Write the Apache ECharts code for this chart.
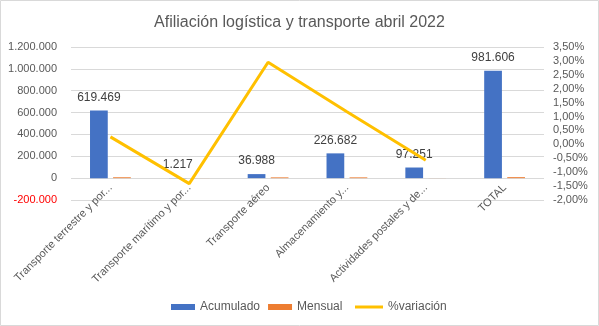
<!DOCTYPE html>
<html><head><meta charset="utf-8">
<script src="https://cdn.jsdelivr.net/npm/echarts@6/dist/echarts.min.js"></script>
<style>html,body{margin:0;padding:0;background:#fff}#c{width:599px;height:326px}</style>
</head><body><div id="c"></div>
<script>
const categories = ["Transporte terrestre y por...", "Transporte marítimo y por...", "Transporte aéreo", "Almacenamiento y...", "Actividades postales y de...", "TOTAL"];
const acumulado = [619469, 1217, 36988, 226682, 97251, 981606];
const mensual = [8000, 500, 7000, 7000, 500, 9000];
const variacion = [0.27, -1.41, 2.95, 1.17, -0.57, null];
const seriesNames = ["Acumulado", "Mensual", "%variación"];
const titleText = "Afiliación logística y transporte abril 2022";

const FONT = "Liberation Sans";
const fmtThousands = v => String(Math.round(v)).replace(/\B(?=(\d{3})+(?!\d))/g, ".");
const chart = echarts.init(document.getElementById('c'), null, {renderer: 'canvas'});
const legendText = {fontFamily: FONT, fontSize: 12, color: '#595959'};
chart.setOption({
  animation: false,
  textStyle: {fontFamily: FONT},
  graphic: [{type: 'rect', shape: {x: 0.5, y: 0.5, width: 598, height: 325}, style: {fill: 'none', stroke: '#D9D9D9', lineWidth: 1}, silent: true}],
  title: {text: titleText, left: 'center', top: 10, textStyle: {fontFamily: FONT, fontSize: 16, fontWeight: 'normal', color: '#595959'}},
  legend: [
    {top: 296, left: 166, itemWidth: 24, itemHeight: 6, itemGap: 8, textStyle: legendText,
     data: [{name: seriesNames[0], icon: 'rect'}, {name: seriesNames[1], icon: 'rect'}]},
    {top: 296, left: 350, itemWidth: 28, itemHeight: 6, textStyle: legendText,
     data: [{name: seriesNames[2], icon: 'path://M0,1.5 L28,1.5 L28,4.5 L0,4.5 Z'}]}
  ],
  grid: {left: 71, right: 55, top: 47, bottom: 126, containLabel: false},
  xAxis: {
    type: 'category', data: categories,
    axisLine: {show: false},
    axisTick: {show: false},
    axisLabel: {rotate: 45, interval: 0, fontFamily: FONT, fontSize: 11, color: '#595959', margin: -14}
  },
  yAxis: [
    {
      type: 'value', min: -200000, max: 1200000, interval: 200000,
      axisLine: {show: false}, axisTick: {show: false},
      splitLine: {lineStyle: {color: '#D9D9D9'}},
      axisLabel: {fontFamily: FONT, fontSize: 11, margin: 14,
        formatter: v => (v < 0 ? '-' : '') + fmtThousands(Math.abs(v)),
        color: v => (Number(v) < 0 ? '#FF0000' : '#595959')}
    },
    {
      type: 'value', min: -2, max: 3.5, interval: 0.5,
      axisLine: {show: false}, axisTick: {show: false}, splitLine: {show: false},
      axisLabel: {fontFamily: FONT, fontSize: 11, color: '#595959', margin: 9,
        formatter: v => v.toFixed(2).replace('.', ',') + '%'}
    }
  ],
  series: [
    {name: seriesNames[0], type: 'bar', data: acumulado, barWidth: '22.5%', barGap: '30%',
     itemStyle: {color: '#4472C4'},
     label: {show: true, position: 'top', distance: 7, fontFamily: FONT, fontSize: 12, color: '#404040', formatter: p => fmtThousands(p.value)}},
    {name: seriesNames[1], type: 'bar', data: mensual, barWidth: '22.5%', barGap: '30%',
     itemStyle: {color: '#ED7D31'}},
    {name: seriesNames[2], type: 'line', yAxisIndex: 1, data: variacion, showSymbol: false, symbol: 'none',
     connectNulls: false, lineStyle: {color: '#FFC000', width: 3}, itemStyle: {color: '#FFC000'}}
  ]
});
</script></body></html>
